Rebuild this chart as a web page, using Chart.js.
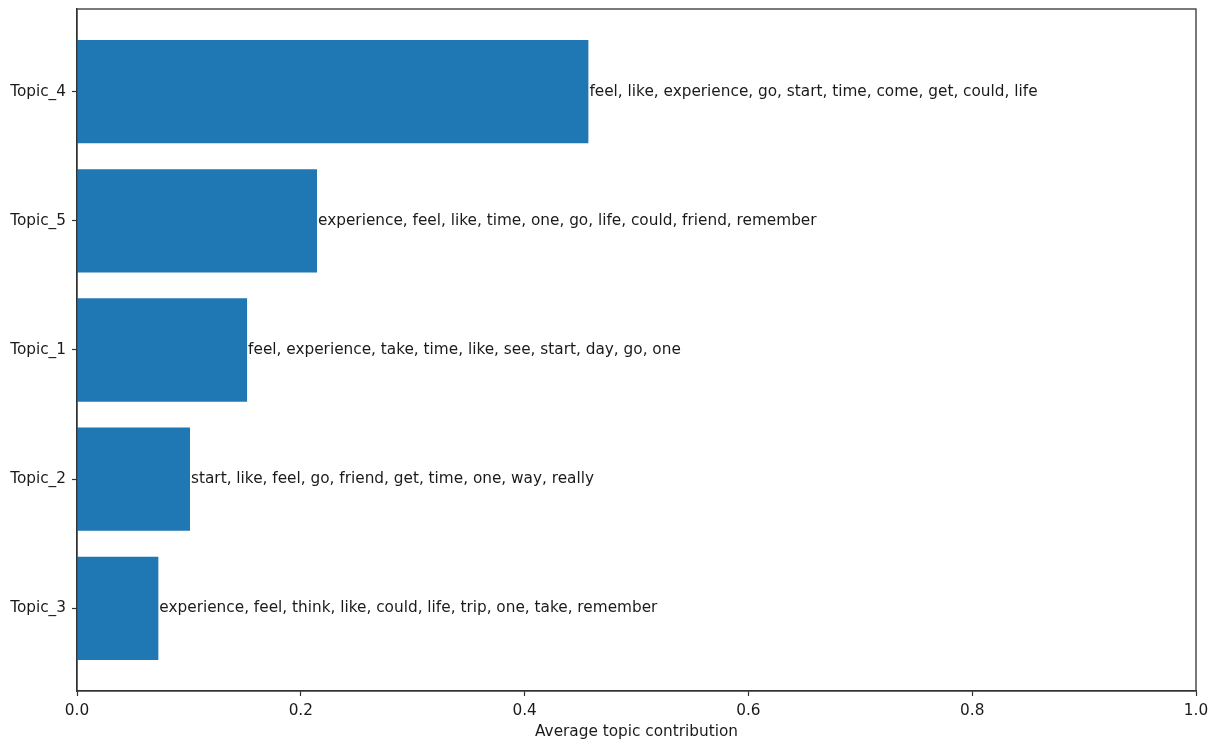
<!DOCTYPE html>
<html lang="en">
<head>
  <meta charset="UTF-8" />
  <title>Average topic contribution</title>
  <script src="https://cdn.jsdelivr.net/npm/chart.js"></script>
  <style>
    html, body { margin: 0; padding: 0; background: #fff; }
    #wrap { width: 1224px; height: 742px; }
  </style>
</head>
<body>
  <div id="wrap"><canvas id="topicChart"></canvas></div>

  <script>
    // bottom to top, as matplotlib barh draws them
    const topics = ["Topic_3", "Topic_2", "Topic_1", "Topic_5", "Topic_4"];
    const contribution = [0.0727, 0.101, 0.152, 0.2145, 0.457];
    const topWords = [
      "experience, feel, think, like, could, life, trip, one, take, remember",
      "start, like, feel, go, friend, get, time, one, way, really",
      "feel, experience, take, time, like, see, start, day, go, one",
      "experience, feel, like, time, one, go, life, could, friend, remember",
      "feel, like, experience, go, start, time, come, get, could, life"
    ];
    const xTicks = [0, 0.2, 0.4, 0.6, 0.8, 1.0];

    const FONT = "'DejaVu Sans', sans-serif";
    const FSIZE = 15.3;
    const INK = "#1a1a1a";

    // text next to each bar end + box around the axes
    const extras = {
      id: "extras",
      afterDatasetsDraw(chart) {
        const ctx = chart.ctx;
        const meta = chart.getDatasetMeta(0);
        ctx.save();
        ctx.font = FSIZE + "px " + FONT;
        ctx.fillStyle = INK;
        ctx.textBaseline = "middle";
        ctx.textAlign = "left";
        meta.data.forEach((bar, i) => {
          ctx.fillText(topWords[i], bar.x + 1, bar.y);
        });
        ctx.restore();
      },
      afterDraw(chart) {
        const a = chart.chartArea;
        const ctx = chart.ctx;
        ctx.save();
        ctx.strokeStyle = "#333";
        ctx.lineWidth = 1.3;
        ctx.strokeRect(a.left, a.top, a.right - a.left, a.bottom - a.top);
        ctx.restore();
      }
    };

    new Chart(document.getElementById("topicChart"), {
      type: "bar",
      data: {
        datasets: [{
          data: contribution.map((v, i) => ({ x: v, y: i })),
          backgroundColor: "#1f77b4",
          borderWidth: 0,
          categoryPercentage: 1.0,
          barPercentage: 0.8
        }]
      },
      options: {
        indexAxis: "y",
        responsive: true,
        maintainAspectRatio: false,
        animation: false,
        layout: { padding: { top: 9, right: 28, bottom: 0, left: 0 } },
        plugins: { legend: { display: false }, tooltip: { enabled: false } },
        scales: {
          y: {
            type: "linear",
            min: -0.64,
            max: 4.64,
            offset: false,
            afterBuildTicks: s => { s.ticks = topics.map((t, i) => ({ value: i })); },
            afterFit: s => { s.width = 77; s.paddingTop = 0; s.paddingBottom = 0; },
            grid: { offset: false, drawOnChartArea: false, tickLength: 5, tickColor: "#333", tickWidth: 1.2 },
            border: { color: "#333", width: 1.3 },
            ticks: {
              padding: 6,
              color: INK,
              font: { family: FONT, size: FSIZE },
              callback: v => topics[v]
            }
          },
          x: {
            type: "linear",
            min: 0,
            max: 1,
            afterBuildTicks: s => { s.ticks = xTicks.map(v => ({ value: v })); },
            afterFit: s => { s.height = 51; s.paddingLeft = 0; s.paddingRight = 0; },
            grid: { drawOnChartArea: false, tickLength: 5, tickColor: "#333", tickWidth: 1.2 },
            border: { color: "#333", width: 1.3 },
            ticks: {
              padding: 6,
              color: INK,
              maxRotation: 0,
              font: { family: FONT, size: FSIZE },
              callback: v => v.toFixed(1)
            },
            title: {
              display: true,
              text: "Average topic contribution",
              color: INK,
              font: { family: FONT, size: FSIZE },
              padding: { top: 0, bottom: 1 }
            }
          }
        }
      },
      plugins: [extras]
    });
  </script>
</body>
</html>
